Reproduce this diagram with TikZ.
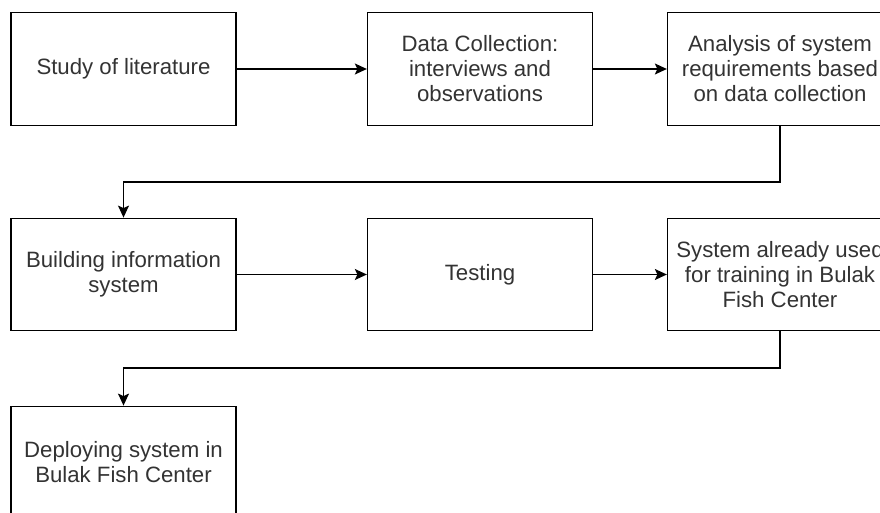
\documentclass[tikz,border=0pt]{standalone}
\usepackage{fontspec}
\setmainfont{Liberation Sans}
\usetikzlibrary{arrows.meta}
\definecolor{txt}{HTML}{333333}
\tikzset{
  box/.style={draw=black, line width=1.3pt, fill=white, minimum width=225pt, minimum height=112.5pt,
    inner sep=0pt, align=center, text=txt, font=\fontsize{22.2pt}{25pt}\selectfont},
  arr/.style={draw=black, line width=1.3pt, -{Stealth[length=12pt,width=11pt,inset=2.5pt]}}
}
\begin{document}
\begin{tikzpicture}[x=1pt,y=-1pt]
\clip (0,0) rectangle (880,513);
\fill[white] (0,0) rectangle (880,513);
\node[box] (n1) at (123.5,69) {Study of literature};
\node[box] (n2) at (480,69) {Data Collection:\\interviews and\\observations};
\node[box] (n3) at (780,69) {Analysis of system\\requirements based\\on data collection};
\node[box] (n4) at (123.5,274.5) {Building information\\system};
\node[box] (n5) at (480,274.5) {Testing};
\node[box] (n6) at (780,274.5) {System already used\\for training in Bulak\\Fish Center};
\node[box] (n7) at (123.5,462.5) {Deploying system in\\Bulak Fish Center};
\coordinate (c1) at (123.5,182);
\coordinate (c2) at (123.5,368);
\draw[arr] (n1.east) -- (n2.west);
\draw[arr] (n2.east) -- (n3.west);
\draw[arr] (n3.south) |- (c1) -- (n4.north);
\draw[arr] (n4.east) -- (n5.west);
\draw[arr] (n5.east) -- (n6.west);
\draw[arr] (n6.south) |- (c2) -- (n7.north);
\end{tikzpicture}
\end{document}
